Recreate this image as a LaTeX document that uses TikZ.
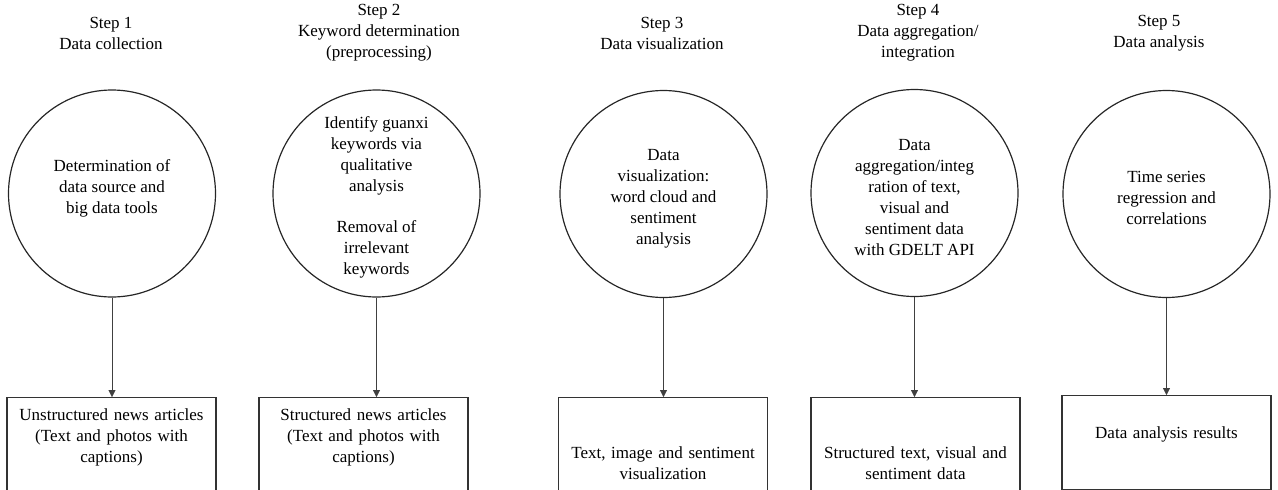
\documentclass[tikz,border=0pt]{standalone}
\usepackage{fontspec}
\setmainfont{Liberation Serif}
\usetikzlibrary{arrows.meta}
\newcommand{\topgap}[1]{\rule{0pt}{#1}}
\begin{document}
\begin{tikzpicture}[x=1pt,y=-1pt,>={Triangle[length=7pt,width=7pt]},
	font=\fontsize{17}{21}\selectfont,
	stage/.style={circle,draw=black!85,line width=1.2pt,minimum size=207pt,inner sep=0pt,align=center},
	outbox/.style={draw=black!80,line width=1.3pt,anchor=north,text width=200pt,inner xsep=4.5pt,inner ysep=0pt,align=center,text height=#1,text depth=160pt},
	title/.style={align=center}]
			\useasboundingbox (0,0) rectangle (1278,490);
			\clip (0,0) rectangle (1278,490);
			% step titles
			\node[title] (t1) at (111,33) {Step 1\\Data collection};
			\node[title] (t2) at (379,33) {Step 2\\Keyword determination\\(preprocessing)};
			\node[title] (t3) at (662,33) {Step 3\\Data visualization};
			\node[title] (t4) at (918,33) {Step 4\\Data aggregation/\\integration};
			\node[title] (t5) at (1159,33) {Step 5\\Data analysis};
			% circles
			\node[stage,text depth=14pt] (c1) at (112,193.5) {Determination of\\data source and\\big data tools};
			\node[stage] (c2) at (376.5,193.5) {\topgap{19pt}Identify guanxi\\keywords via\\qualitative\\analysis\\[20pt]Removal of\\irrelevant\\keywords};
			\node[stage] (c3) at (663.5,194) {\topgap{20pt}Data\\visualization:\\word cloud and\\sentiment\\analysis};
			\node[stage] (c4) at (914.5,193) {\topgap{21pt}Data\\aggregation/integ\\ration of text,\\visual and\\sentiment data\\with GDELT API};
			\node[stage] (c5) at (1166.5,194) {\topgap{20pt}Time series\\regression and\\correlations};
			% result boxes
			\node[outbox=23pt] (b1) at (111.5,397) {Unstructured news articles\\(Text and photos with\\captions)};
			\node[outbox=23pt] (b2) at (363.5,397) {Structured news articles\\(Text and photos with\\captions)};
			\node[outbox=61pt] (b3) at (663,397) {Text, image and sentiment\\visualization};
			\node[outbox=61pt] (b4) at (915.5,397) {Structured text, visual and\\sentiment data};
			\node[outbox=43pt,text depth=51pt] (b5) at (1166.5,395) {Data analysis results};
			% arrows
			\draw[->,color=black!75] (c1.south) -- (c1.south |- b1.north);
			\draw[->,color=black!75] (c2.south) -- (c2.south |- b2.north);
			\draw[->,color=black!75] (c3.south) -- (c3.south |- b3.north);
			\draw[->,color=black!75] (c4.south) -- (c4.south |- b4.north);
			\draw[->,color=black!75] (c5.south) -- (c5.south |- b5.north);
	\end{tikzpicture}
\end{document}
